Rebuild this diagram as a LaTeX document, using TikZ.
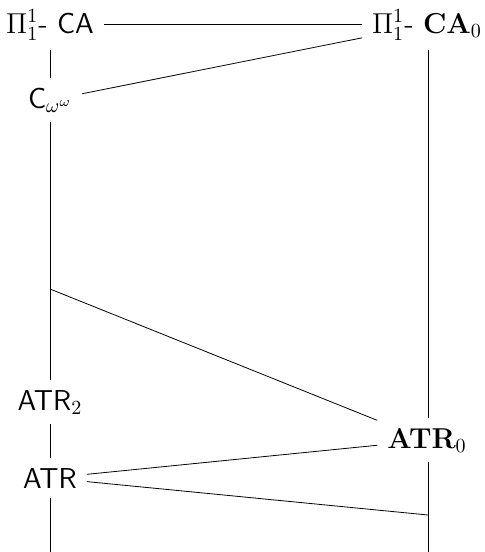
\documentclass[tikz,border=0pt]{standalone}
\usepackage{amsmath}
\usepackage{amssymb}
\usepackage{tikz}
\usetikzlibrary{positioning, calc}

\tikzset{theory/.style={font=\Large, anchor=base, inner sep=4.8pt}}

\begin{document}
\begin{tikzpicture}[x=0.5pt, y=-0.5pt]
    \useasboundingbox (0,0) rectangle (485,552);

    % Left column
    \node[theory] (PiCA) at (50,33) {$\Pi^1_1$- \textsf{CA}};
    \node[theory] (Cww) at (50,108) {$\mathsf{C}_{\omega^\omega}$};
    \node[theory] (ATRtwo) at (50,410) {$\mathsf{ATR}_2$};
    \node[theory] (ATR) at (50,488) {\textsf{ATR}};

    % Right column
    \node[theory] (PiCAz) at (427,33) {$\Pi^1_1$- $\mathbf{CA}_0$};
    \node[theory] (ATRz) at (427,448) {$\mathbf{ATR}_0$};

    % Points on the lines
    \coordinate (midL) at (50,289);
    \coordinate (lowR) at (428,515);
    \coordinate (botL) at (50,552);
    \coordinate (botR) at (428,552);

    % Left line
    \draw (PiCA) -- (Cww);
    \draw (Cww) -- (ATRtwo);
    \draw (ATRtwo) -- (ATR);
    \draw (ATR) -- (botL);

    % Right line
    \draw (ATRz.north -| botR) -- (PiCAz.south -| botR);
    \draw (ATRz.south -| botR) -- (botR);

    % Cross connections
    \draw (PiCA) -- (PiCAz);
    \draw (Cww) -- (PiCAz);
    \draw (midL) -- (ATRz);
    \draw (ATR) -- (ATRz);
    \draw (ATR) -- (lowR);
\end{tikzpicture}
\end{document}
